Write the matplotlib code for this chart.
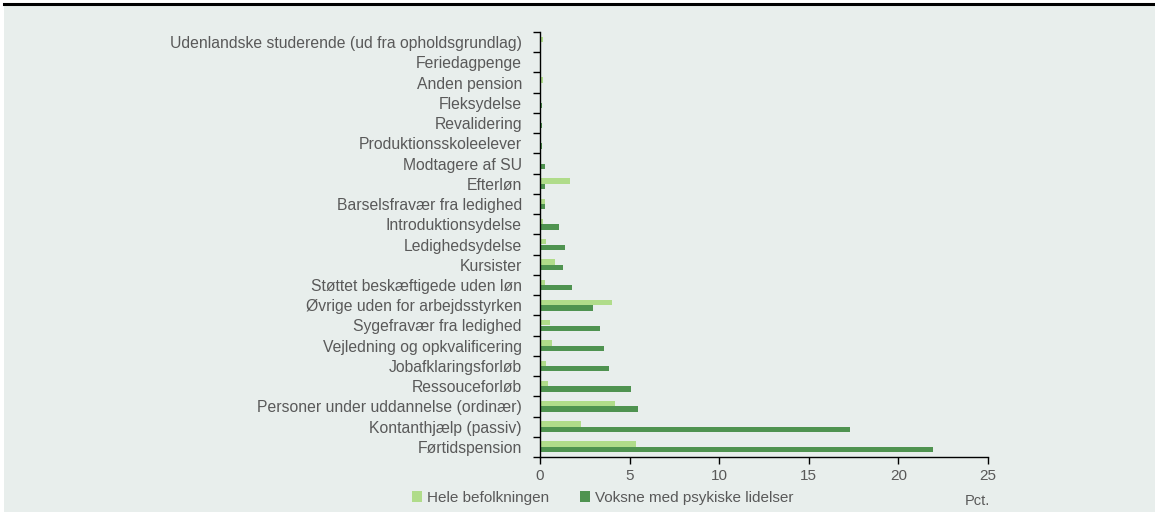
import numpy as np
import matplotlib.pyplot as plt
from matplotlib.patches import Rectangle
from matplotlib.lines import Line2D

# categories listed bottom to top
categories = [
    "Førtidspension",
    "Kontanthjælp (passiv)",
    "Personer under uddannelse (ordinær)",
    "Ressouceforløb",
    "Jobafklaringsforløb",
    "Vejledning og opkvalificering",
    "Sygefravær fra ledighed",
    "Øvrige uden for arbejdsstyrken",
    "Støttet beskæftigede uden løn",
    "Kursister",
    "Ledighedsydelse",
    "Introduktionsydelse",
    "Barselsfravær fra ledighed",
    "Efterløn",
    "Modtagere af SU",
    "Produktionsskoleelever",
    "Revalidering",
    "Fleksydelse",
    "Anden pension",
    "Feriedagpenge",
    "Udenlandske studerende (ud fra opholdsgrundlag)",
]
hele = [5.35, 2.3, 4.2, 0.45, 0.35, 0.67, 0.58, 4.0, 0.28, 0.86, 0.35, 0.15,
        0.28, 1.68, 0.06, 0.02, 0.02, 0.07, 0.17, 0.0, 0.17]
psyk = [21.95, 17.3, 5.48, 5.08, 3.87, 3.58, 3.37, 2.98, 1.79, 1.28, 1.38, 1.08,
        0.28, 0.28, 0.28, 0.09, 0.09, 0.09, 0.07, 0.0, 0.0]
xticks = [0, 5, 10, 15, 20, 25]

light = "#b0dc8a"
dark = "#4f9350"
bg = "#e8eeec"
txt = "#595959"

plt.rcParams["font.family"] = ["Liberation Sans", "DejaVu Sans"]

fig = plt.figure(figsize=(11.55, 5.13), dpi=100)
fig.patch.set_facecolor("white")
# panel background and top rule
fig.patches.append(Rectangle((4 / 1155, 1 / 513), 1 - 4 / 1155, 1 - 6 / 513,
                             transform=fig.transFigure, facecolor=bg,
                             edgecolor="none", zorder=-10))
fig.lines.append(Line2D([4 / 1155, 1], [1 - 4 / 513, 1 - 4 / 513],
                        transform=fig.transFigure, color="black", lw=2.2))

ax = fig.add_axes([540 / 1155, 1 - 457 / 513, 448 / 1155, 425 / 513])
ax.set_facecolor("none")

y = np.arange(len(categories))
h = 0.265
ax.barh(y + 0.135, hele, height=h, color=light, label="Hele befolkningen")
ax.barh(y - 0.135, psyk, height=h, color=dark, label="Voksne med psykiske lidelser")

ax.set_xlim(0, 25)
ax.set_ylim(-0.5, len(categories) - 0.5)
ax.set_xticks(xticks)
ax.set_xticklabels([str(t) for t in xticks], fontsize=11, color=txt)
ax.set_yticks(y)
ax.set_yticklabels(categories, fontsize=11.3, color=txt)
ax.tick_params(axis="y", length=0, pad=13)
ax.set_yticks(np.arange(len(categories) + 1) - 0.5, minor=True)
ax.tick_params(axis="y", which="minor", length=5, width=1, color="black")
ax.tick_params(axis="x", length=5, width=1, color="black", pad=4)

for s in ["top", "right"]:
    ax.spines[s].set_visible(False)
for s in ["left", "bottom"]:
    ax.spines[s].set_color("black")
    ax.spines[s].set_linewidth(1)

ax.legend(loc="upper left", bbox_to_anchor=(398 / 1155, 1 - 477 / 513),
          bbox_transform=fig.transFigure, ncol=2, frameon=False,
          fontsize=11, handlelength=0.7, handleheight=0.7,
          handletextpad=0.3, columnspacing=2.0, labelcolor=txt)

fig.text(990 / 1155, 1 - 501 / 513, "Pct.", fontsize=10.5, color=txt,
         ha="right", va="center")

fig.savefig("out.png", dpi=100)
